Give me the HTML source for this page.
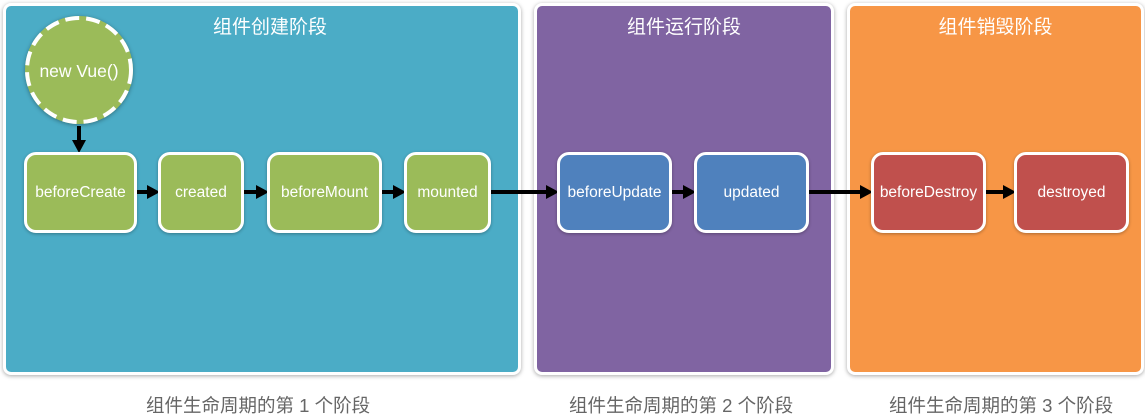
<!DOCTYPE html><html><head><meta charset="utf-8"><style>
body{margin:0;width:1145px;height:419px;background:#fff;overflow:hidden;position:relative;font-family:"Liberation Sans","Noto Sans CJK SC",sans-serif}
.p{position:absolute;top:3px;height:372px;border:3px solid #fff;border-radius:8px;box-shadow:0 1px 4px rgba(0,0,0,.35);box-sizing:border-box}
.t{position:absolute;top:6px;color:#fff;font-size:19px;width:100%;text-align:center}
.n{position:absolute;top:152px;height:81px;border:3px solid #fff;border-radius:12px;box-sizing:border-box;color:#fff;font-size:15.5px;display:flex;align-items:center;justify-content:center;box-shadow:0 1px 3px rgba(0,0,0,.3)}
.g{background:#9bbb59}.b{background:#4f81bd}.r{background:#c0504d}
.l{position:absolute;top:392px;color:#666;font-size:18.5px}
</style></head><body>
<div class="p" style="left:3px;width:518px;background:#4bacc6"><div class="t" style="left:0;padding-left:8px">组件创建阶段</div></div>
<div class="p" style="left:534px;width:300px;background:#8064a2"><div class="t">组件运行阶段</div></div>
<div class="p" style="left:847px;width:297px;background:#f79646"><div class="t">组件销毁阶段</div></div>
<div style="position:absolute;left:25px;top:16px;width:108px;height:108px;border-radius:50%;background:#9bbb59;box-shadow:0 1px 4px rgba(0,0,0,.35)"></div>
<svg style="position:absolute;left:0;top:0" width="1145" height="419">
<circle cx="79" cy="70" r="52" fill="none" stroke="#fff" stroke-width="4" stroke-dasharray="14 7"/>
<text x="79" y="77" fill="#fff" font-size="17.5" text-anchor="middle" font-family="Liberation Sans">new Vue()</text>
<g stroke="#000" stroke-width="4"><line x1="79" y1="126" x2="79" y2="142"/><line x1="136" y1="192" x2="149" y2="192"/><line x1="243" y1="192" x2="258" y2="192"/><line x1="381" y1="192" x2="395" y2="192"/><line x1="490" y1="192" x2="548" y2="192"/><line x1="671" y1="192" x2="685" y2="192"/><line x1="808" y1="192" x2="862" y2="192"/><line x1="985" y1="192" x2="1005" y2="192"/></g>
<g fill="#000"><polygon points="72,140 86,140 79,153"/>
<polygon points="147,185 160,192 147,199"/><polygon points="256,185 269,192 256,199"/><polygon points="393,185 406,192 393,199"/><polygon points="546,185 559,192 546,199"/><polygon points="683,185 696,192 683,199"/><polygon points="860,185 873,192 860,199"/><polygon points="1003,185 1016,192 1003,199"/></g>
</svg>
<div class="n g" style="left:24px;width:113px">beforeCreate</div>
<div class="n g" style="left:158px;width:86px">created</div>
<div class="n g" style="left:267px;width:115px">beforeMount</div>
<div class="n g" style="left:404px;width:87px">mounted</div>
<div class="n b" style="left:557px;width:115px">beforeUpdate</div>
<div class="n b" style="left:694px;width:115px">updated</div>
<div class="n r" style="left:871px;width:115px">beforeDestroy</div>
<div class="n r" style="left:1014px;width:115px">destroyed</div>
<div class="l" style="left:146px">组件生命周期的第 1 个阶段</div>
<div class="l" style="left:569px">组件生命周期的第 2 个阶段</div>
<div class="l" style="left:889px">组件生命周期的第 3 个阶段</div>
</body></html>
